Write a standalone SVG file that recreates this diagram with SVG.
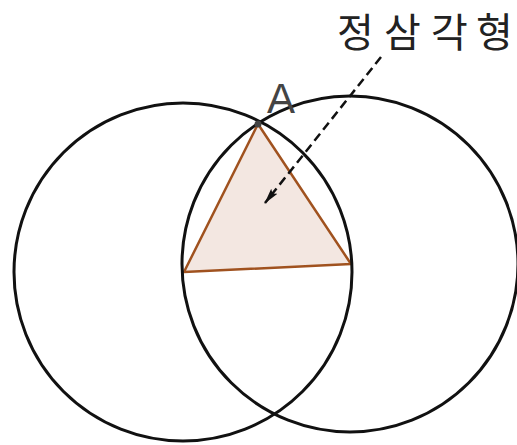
<svg xmlns="http://www.w3.org/2000/svg" width="517" height="445" viewBox="0 0 517 445">
<style>
.circle{fill:none;stroke:#111;stroke-width:3}
.tri{fill:#f3e7e1;stroke:#a0521f;stroke-width:2.5;stroke-linejoin:round}
.lbl{font-family:"Liberation Sans",Arial,sans-serif;fill:#444}
.kor{font-family:"Noto Sans CJK KR","Noto Sans",sans-serif;fill:#222}
.conn{stroke:#111;stroke-width:2.5;stroke-dasharray:9,5;fill:none}
</style>
<defs>
<marker id="arr" viewBox="0 0 16 10" refX="15" refY="5" markerWidth="16" markerHeight="10" markerUnits="userSpaceOnUse" orient="auto">
<path d="M0,1 L16,5 L0,9 L3,5 Z" fill="#111"/>
</marker>
</defs>
<rect width="517" height="445" fill="#fff"/>
<g id="triangle">
<polygon class="tri" points="258,124 184,272 351,264"/>
</g>
<g id="circle-left">
<circle class="circle" cx="183" cy="272" r="169"/>
</g>
<g id="circle-right">
<circle class="circle" cx="350" cy="264" r="168"/>
</g>
<g id="point-A">
<circle cx="258" cy="124" r="3.5" fill="#444"/>
<text class="lbl" x="267" y="113" font-size="42">A</text>
</g>
<g id="label">
<text class="kor" x="337 384 431 476" y="47" font-size="40">정삼각형</text>
</g>
<g id="connectors">
<line class="conn" x1="381" y1="57" x2="265" y2="203" marker-end="url(#arr)"/>
</g>
</svg>
